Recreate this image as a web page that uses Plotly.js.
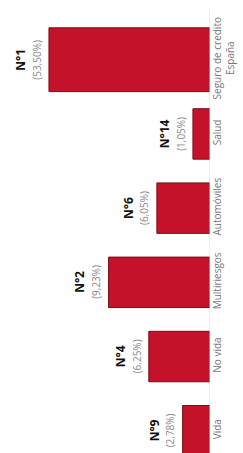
<!DOCTYPE html>
<html><head><meta charset="utf-8">
<script src="https://cdn.plot.ly/plotly-3.0.1.min.js"></script>
<style>html,body{margin:0;padding:0;background:#fff}#c{width:243px;height:453px}</style>
</head><body><div id="c"></div>
<script>
// bottom -> top order in the picture
const categories = ["Vida", "No vida", "Multiriesgos", "Automóviles", "Salud", "Seguro de credito<br>España"];
const barValues = [17, 38, 63, 33, 10.6, 100];
const ranks = ["N°9", "N°4", "N°2", "N°6", "N°14", "N°1"];
const shares = ["(2,78%)", "(6,25%)", "(9,23%)", "(6,05%)", "(1,05%)", "(53,50%)"];

const trace = {
  type: 'bar', orientation: 'h',
  y: categories, x: barValues,
  width: categories.map((c, i) => i === categories.length - 1 ? 0.86 : 0.68),
  marker: {color: '#c4122b', line: {color: '#7a0d1a', width: 1}},
  hoverinfo: 'none'
};
const annotations = categories.map((c, i) => ({
  x: barValues[i], y: c, xref: 'x', yref: 'y',
  text: '<b>' + ranks[i] + '</b><br><span style="color:#8a8a8a;font-size:10px">' + shares[i] + '</span>',
  textangle: -90, showarrow: false, xanchor: 'right', xshift: -3,
  font: {family: 'Open Sans', size: 12, color: '#111'}
}));
Plotly.newPlot('c', [trace], {
  width: 243, height: 453,
  margin: {l: 0, r: 33, t: 10, b: 0},
  paper_bgcolor: '#fff', plot_bgcolor: '#fff',
  showlegend: false,
  xaxis: {range: [130.4, 0], visible: false, fixedrange: true},
  yaxis: {type: 'category', range: [-0.30, 5.67], side: 'right', tickangle: -90,
    showgrid: false, zeroline: false, showline: false, ticks: '',
    tickfont: {family: 'Open Sans', size: 10, color: '#777'}},
  shapes: [{type: 'line', xref: 'x', yref: 'paper', x0: 0, x1: 0, y0: 0, y1: 1, line: {color: '#ddd', width: 1}}],
  annotations: annotations
}, {displayModeBar: false, staticPlot: true});
</script></body></html>
